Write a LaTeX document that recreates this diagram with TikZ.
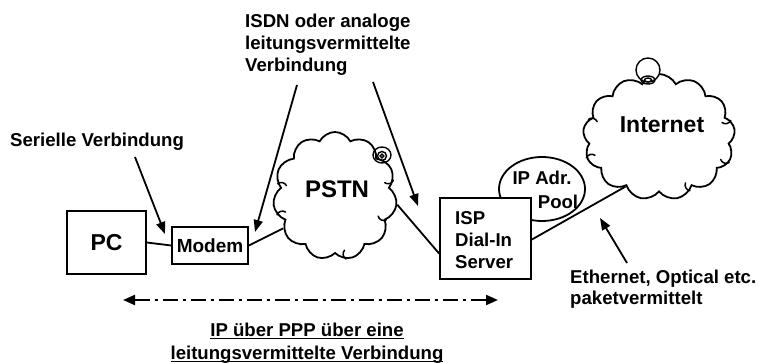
\documentclass[tikz,border=0pt]{standalone}
\usepackage{fontspec}
\setmainfont{Liberation Sans}
\usetikzlibrary{arrows.meta,shapes.symbols,shapes.geometric,calc}

% underline drawn just below the baseline, independent of descenders
\newcommand\ulline[1]{\setbox0\hbox{#1}\rlap{\rule[-2.8pt]{\wd0}{1.4pt}}\box0}

\tikzset{
  txt/.style={font=\fontsize{18.6}{22}\selectfont\bfseries, inner sep=0pt},
  bigtxt/.style={font=\fontsize{23}{27}\selectfont\bfseries},
  device/.style={draw, line width=1.8pt, fill=white, inner sep=0pt},
  netcloud/.style={draw, line width=1.8pt, fill=white, cloud, cloud ignores aspect,
                   inner sep=0pt, font=\fontsize{24}{28}\selectfont\bfseries},
  curl/.style={line width=1.5pt, line cap=round},
  link/.style={line width=1.8pt},
  pointer/.style={line width=1.8pt, -{Triangle[length=12pt,width=9pt]}},
  span/.style={line width=2pt, dash pattern=on 15pt off 5pt on 3pt off 5pt,
               {Triangle[length=12pt,width=10pt]}-{Triangle[length=12pt,width=10pt]}},
}

\begin{document}
\begin{tikzpicture}[x=1pt,y=-1pt]
  \useasboundingbox (0,0) rectangle (763,363);

  % end devices
  \node[device, minimum width=79pt, minimum height=63pt, bigtxt] (pc) at (106.5,242.5) {PC};
  \node[device, minimum width=76pt, minimum height=37pt, txt, font=\fontsize{19}{22}\selectfont\bfseries] (modem) at (210,245.5) {Modem};

  % circuit switched network
  \node[netcloud, cloud puffs=11, cloud puff arc=125, minimum width=124pt, minimum height=128pt] (pstn) at (335,196) {};
  \node[font=\fontsize{24}{28}\selectfont\bfseries, inner sep=0pt] (pstntxt) at (337,189) {PSTN};
  \foreach \a in {168,198,15,-25,-80}
    \draw[curl] (pstn.\a) to[bend left=55] ($(pstn.\a)!9pt!(pstn.center)$);
  \draw[line width=1.4pt] (382,155) circle[x radius=9pt, y radius=8pt]
                          (382,156) circle[radius=4.5pt] (382,156) circle[radius=1.8pt];

  % packet switched network
  \node[netcloud, cloud puffs=13, cloud puff arc=125, minimum width=152pt, minimum height=126pt] (inet) at (659,137) {};
  \node[bigtxt, inner sep=0pt] (inettxt) at (662,125) {Internet};
  \foreach \a in {166,196,13,-20,-60}
    \draw[curl] (inet.\a) to[bend left=55] ($(inet.\a)!9pt!(inet.center)$);
  \draw[line width=1.4pt, fill=white] (648,70) circle[radius=12pt];
  \draw[line width=1.4pt] (648,80) ellipse[x radius=7pt, y radius=4pt]
                          (648,80) ellipse[x radius=3.5pt, y radius=2pt];

  % address pool behind the dial-in server
  \node[draw, ellipse, line width=1.8pt, fill=white, minimum width=86pt, minimum height=64pt, inner sep=0pt] (pool) at (542,189) {};
  \node[txt] (pooltxt1) at (542,178) {IP Adr.};
  \node[txt] (pooltxt2) at (558,202) {Pool};

  % dial-in server
  \node[device, minimum width=91pt, minimum height=81pt] (isp) at (485.5,238.5) {};
  \node[txt, align=left, anchor=west] (isptxt) at (455,240) {ISP\\Dial-In\\Server};

  % links
  \draw[link] (pc.east) -- (modem.west);
  \draw[link] (modem.east) -- (pstn.212);
  \draw[link] (pstn.-8) -- ([yshift=-15pt]isp.west);
  \draw[link] ([yshift=-1pt]isp.east) -- (inet.236);

  % labels with pointers
  \node[txt, anchor=west] (serial) at (10,142) {Serielle Verbindung};
  \coordinate (serialtip) at (165,234);
  \draw[pointer] (135,157) -- (serialtip);

  \node[txt, align=left, anchor=north west] (isdn) at (245,14) {ISDN oder analoge\\leitungsvermittelte\\Verbindung};
  \coordinate (isdntipA) at (255,232);
  \coordinate (isdntipB) at (418,206);
  \draw[pointer] (297,85) -- (isdntipA);
  \draw[pointer] (373,82) -- (isdntipB);

  \node[txt, align=left, anchor=north west, font=\fontsize{18.6}{21}\selectfont\bfseries] (eth) at (570,270) {Ethernet, Optical etc.\\paketvermittelt};
  \coordinate (ethtip) at (600,218);
  \draw[pointer] (627,263) -- (ethtip);

  % end-to-end span
  \coordinate (spanL) at (123,300);
  \coordinate (spanR) at (498,300);
  \draw[span] (spanL) -- (spanR);
  \node[txt, align=center, anchor=north, font=\fontsize{18.6}{23}\selectfont\bfseries] (ppp) at (307,323) {\ulline{IP über PPP über eine}\\\ulline{leitungsvermittelte Verbindung}};
\end{tikzpicture}
\end{document}
